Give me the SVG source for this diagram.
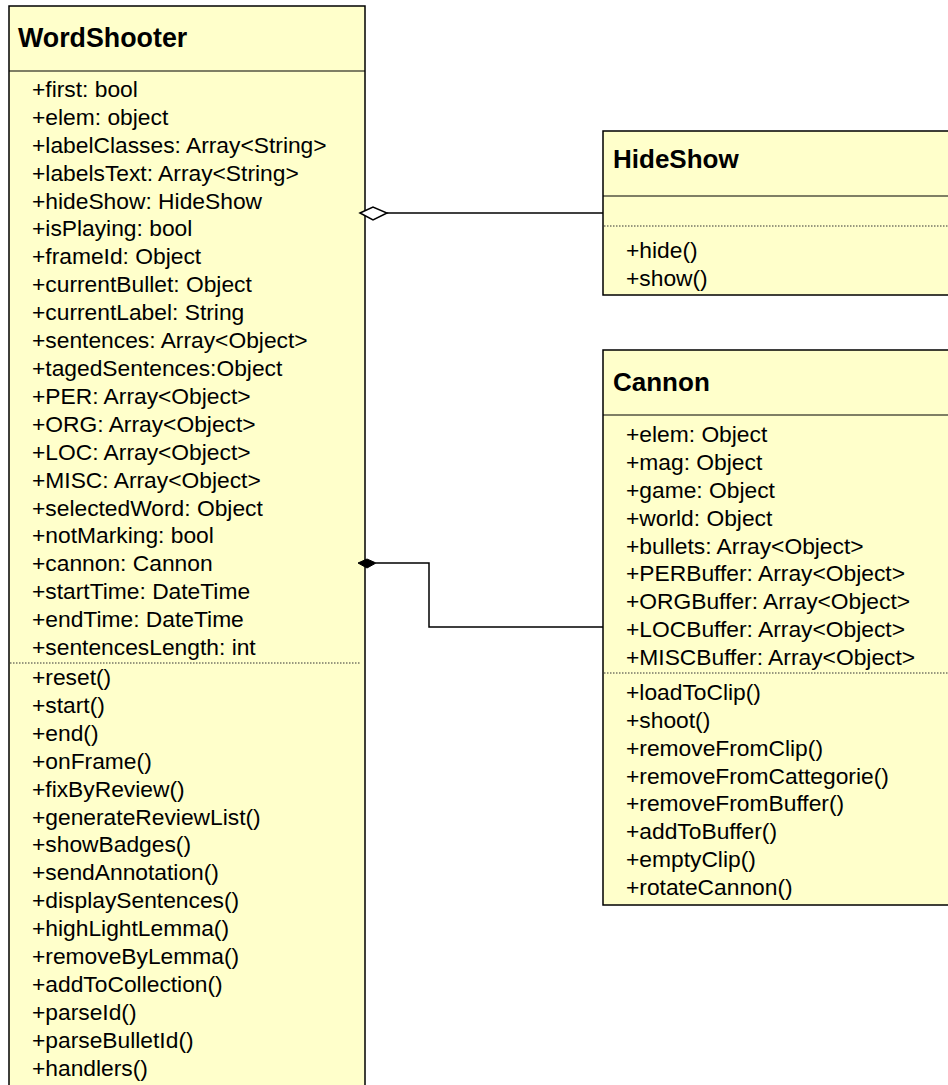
<svg xmlns="http://www.w3.org/2000/svg" width="948" height="1085" viewBox="0 0 948 1085">
<style>
.box{fill:#ffffcb;stroke:#000;stroke-width:1.5}
.sep{stroke:#000;stroke-width:1.2}
.dot{stroke:#333;stroke-width:1;stroke-dasharray:1.5,1.5}
.h{font-family:"Liberation Sans",Arial,sans-serif;font-weight:bold;font-size:26px;fill:#000}
.t{font-family:"Liberation Sans",Arial,sans-serif;font-size:22.8px;fill:#000}
.ln{fill:none;stroke:#000;stroke-width:1.5}
</style>
<rect width="948" height="1085" fill="#fff"/>
<g id="WordShooter">
<rect class="box" x="9" y="6" width="356" height="1100"/>
<line class="sep" x1="9" y1="71" x2="365" y2="71"/>
<text class="h" x="18" y="47" style="font-size:26.8px">WordShooter</text>
<g class="t">
<text x="32" y="97">+first: bool</text>
<text x="32" y="125">+elem: object</text>
<text x="32" y="153">+labelClasses: Array&lt;String&gt;</text>
<text x="32" y="181">+labelsText: Array&lt;String&gt;</text>
<text x="32" y="209">+hideShow: HideShow</text>
<text x="32" y="236">+isPlaying: bool</text>
<text x="32" y="264">+frameId: Object</text>
<text x="32" y="292">+currentBullet: Object</text>
<text x="32" y="320">+currentLabel: String</text>
<text x="32" y="348">+sentences: Array&lt;Object&gt;</text>
<text x="32" y="376">+tagedSentences:Object</text>
<text x="32" y="404">+PER: Array&lt;Object&gt;</text>
<text x="32" y="432">+ORG: Array&lt;Object&gt;</text>
<text x="32" y="460">+LOC: Array&lt;Object&gt;</text>
<text x="32" y="488">+MISC: Array&lt;Object&gt;</text>
<text x="32" y="516">+selectedWord: Object</text>
<text x="32" y="543">+notMarking: bool</text>
<text x="32" y="571">+cannon: Cannon</text>
<text x="32" y="599">+startTime: DateTime</text>
<text x="32" y="627">+endTime: DateTime</text>
<text x="32" y="655">+sentencesLength: int</text>
<text x="32" y="685">+reset()</text>
<text x="32" y="713">+start()</text>
<text x="32" y="741">+end()</text>
<text x="32" y="769">+onFrame()</text>
<text x="32" y="797">+fixByReview()</text>
<text x="32" y="825">+generateReviewList()</text>
<text x="32" y="852">+showBadges()</text>
<text x="32" y="880">+sendAnnotation()</text>
<text x="32" y="908">+displaySentences()</text>
<text x="32" y="936">+highLightLemma()</text>
<text x="32" y="964">+removeByLemma()</text>
<text x="32" y="992">+addToCollection()</text>
<text x="32" y="1020">+parseId()</text>
<text x="32" y="1048">+parseBulletId()</text>
<text x="32" y="1076">+handlers()</text>
</g>
<line class="dot" x1="10" y1="663" x2="360" y2="663"/>
</g>
<g id="HideShow">
<rect class="box" x="603" y="131" width="400" height="164"/>
<line class="sep" x1="603" y1="196" x2="948" y2="196"/>
<text class="h" x="613" y="168">HideShow</text>
<line class="dot" x1="604" y1="226" x2="948" y2="226"/>
<g class="t">
<text x="626" y="258">+hide()</text>
<text x="626" y="286">+show()</text>
</g>
</g>
<g id="Cannon">
<rect class="box" x="603" y="350" width="400" height="555"/>
<line class="sep" x1="603" y1="415" x2="948" y2="415"/>
<text class="h" x="613" y="391">Cannon</text>
<g class="t">
<text x="626" y="442">+elem: Object</text>
<text x="626" y="470">+mag: Object</text>
<text x="626" y="498">+game: Object</text>
<text x="626" y="526">+world: Object</text>
<text x="626" y="554">+bullets: Array&lt;Object&gt;</text>
<text x="626" y="581">+PERBuffer: Array&lt;Object&gt;</text>
<text x="626" y="609">+ORGBuffer: Array&lt;Object&gt;</text>
<text x="626" y="637">+LOCBuffer: Array&lt;Object&gt;</text>
<text x="626" y="665">+MISCBuffer: Array&lt;Object&gt;</text>
<text x="626" y="700">+loadToClip()</text>
<text x="626" y="728">+shoot()</text>
<text x="626" y="756">+removeFromClip()</text>
<text x="626" y="784">+removeFromCattegorie()</text>
<text x="626" y="811">+removeFromBuffer()</text>
<text x="626" y="839">+addToBuffer()</text>
<text x="626" y="867">+emptyClip()</text>
<text x="626" y="895">+rotateCannon()</text>
</g>
<line class="dot" x1="604" y1="673" x2="948" y2="673"/>
</g>
<g id="connectors">
<polyline class="ln" points="387,213 603,213"/>
<polygon points="360,213 373,207 387,213 373,220" fill="#fff" stroke="#000" stroke-width="1.5"/>
<polyline class="ln" points="376,563 429,563 429,627 603,627"/>
<polygon points="358,563 367,559 376,563 367,568" fill="#000" stroke="#000" stroke-width="1"/>
</g>
</svg>
